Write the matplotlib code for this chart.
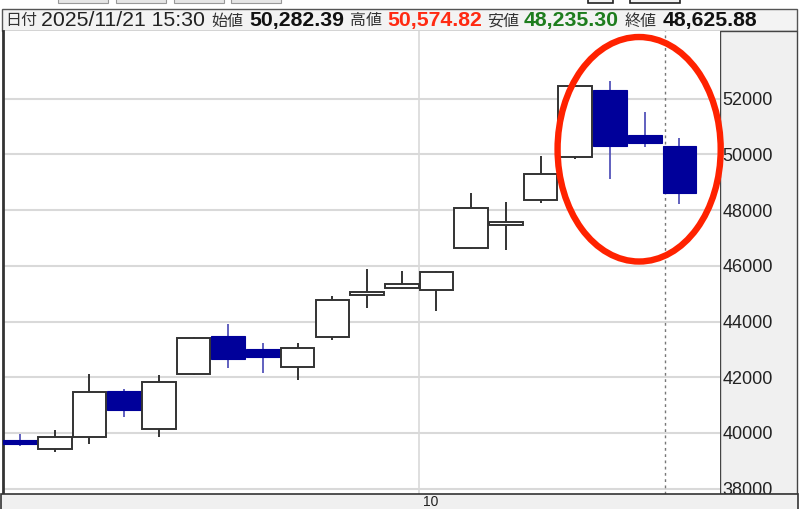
import matplotlib.pyplot as plt
from matplotlib.patches import Rectangle, Ellipse
import numpy as np

# weekly candles (20 weeks), last one = 2025/11/21
opens = [39750, 39420, 39870, 41520, 40140, 42100, 43470, 43010, 42370, 43450,
         44960, 45220, 45140, 46630, 47450, 48360, 49900, 52310, 50690, 50282.39]
highs = [39970, 40110, 42100, 41580, 42080, 43460, 43920, 43230, 43230, 44910,
         45870, 45820, 45800, 48610, 48290, 49940, 52470, 52640, 51530, 50574.82]
lows = [39540, 39300, 39610, 40570, 39870, 42080, 42340, 42150, 41890, 43350,
        44500, 45180, 44390, 46590, 46560, 48270, 49850, 49100, 50260, 48235.30]
closes = [39610, 39850, 41480, 40830, 41840, 43420, 42660, 42730, 43060, 44790,
          45050, 45360, 45780, 48090, 47580, 49310, 52460, 50300, 50400, 48625.88]

yticks = [38000, 40000, 42000, 44000, 46000, 48000, 50000, 52000]
xtick_pos = [11.5]
xtick_labels = ['10']

header = [('日付', 5, 'cjk', '#333333'),
          ('2025/11/21 15:30', 41, 'reg', '#222222'),
          ('始値', 211, 'cjk', '#333333'),
          ('50,282.39', 249, 'bold', '#111111'),
          ('高値', 350, 'cjk', '#333333'),
          ('50,574.82', 387, 'bold', '#ff2a12'),
          ('安値', 487, 'cjk', '#333333'),
          ('48,235.30', 524, 'bold', '#1e7d1e'),
          ('終値', 625, 'cjk', '#333333'),
          ('48,625.88', 663, 'bold', '#111111')]

W, H = 800, 509
fig = plt.figure(figsize=(W / 100, H / 100), dpi=100)
fig.patch.set_facecolor('white')

def px(x0, y0, w, h):
    # pixel box (top-left origin) -> figure fraction
    return [x0 / W, 1 - (y0 + h) / H, w / W, h / H]

def box(x0, y0, w, h, fc, ec='#444444', lw=1.0, z=0):
    b = px(x0, y0, w, h)
    r = Rectangle((b[0], b[1]), b[2], b[3], transform=fig.transFigure,
                  facecolor=fc, edgecolor=ec, linewidth=lw, zorder=z)
    fig.add_artist(r)

# top buttons (cut off)
for bx in [58, 116, 174, 231]:
    box(bx, -6, 50, 9, '#e6e6e6', '#999999', 0.8)
for bx, bw in [(588, 25), (630, 50)]:
    box(bx, -6, bw, 9, '#f4f4f4', '#222222', 1.2)

# header bar
box(2, 9, 795, 22, '#f3f3f3', '#555555', 1.0)
for txt, x, kind, col in header:
    if kind == 'cjk':
        fig.text(x / W, 1 - 21 / H, txt, family='Noto Sans CJK JP', fontsize=11.5,
                 color=col, va='center', ha='left')
    elif kind == 'bold':
        fig.text(x / W, 1 - 20.5 / H, txt, family='Liberation Sans', fontsize=15.3,
                 fontweight='bold', color=col, va='center', ha='left')
    else:
        fig.text(x / W, 1 - 20.5 / H, txt, family='Liberation Sans', fontsize=15.3,
                 color=col, va='center', ha='left')

# right price panel
box(720, 31, 77, 463, '#f0f0f0', '#444444', 1.0, z=0)

ax = fig.add_axes(px(3, 31, 717, 463))
ax.set_zorder(2)
ax.set_facecolor('white')

ax.set_xlim(-0.49, 20.17)
ax.set_ylim(37809, 54428)

for v in yticks:
    ax.axhline(v, color='#d9d9d9', lw=1.5, zorder=0)
ax.axvline(11.5, color='#d9d9d9', lw=1.2, zorder=0)
ax.axvline(18.58, color='#777777', lw=1.0, ls=(0, (2, 2.5)), zorder=0)

up_edge = '#333333'
down_fc = '#00009a'
down_wick = '#4646b4'
bw = 0.97
for i in range(len(opens)):
    o, h, l, c = opens[i], highs[i], lows[i], closes[i]
    if c >= o:
        ax.vlines(i, l, h, color=up_edge, lw=1.4, zorder=2)
        ax.add_patch(Rectangle((i - bw / 2, o), bw, c - o, facecolor='white',
                               edgecolor=up_edge, lw=1.4, zorder=3))
    else:
        ax.vlines(i, l, h, color=down_wick, lw=1.2, zorder=2)
        ax.add_patch(Rectangle((i - bw / 2, c), bw, o - c, facecolor=down_fc,
                               edgecolor=down_fc, lw=0.8, zorder=3))

# red circle around the last weeks
ell = Ellipse((17.84, 50183), 4.70, 8058, fill=False, edgecolor='#ff2200',
              lw=4.6, zorder=6, clip_on=False)
ax.add_patch(ell)

ax.yaxis.tick_right()
ax.set_yticks(yticks)
ax.set_yticklabels([str(v) for v in yticks], family='Liberation Sans',
                   fontsize=13, color='#222222')
ax.tick_params(axis='y', length=0, pad=2)
ax.set_xticks(xtick_pos)
ax.set_xticklabels([''])
ax.tick_params(axis='x', length=0)
for s in ['top', 'right', 'bottom']:
    ax.spines[s].set_visible(False)
ax.spines['left'].set_color('#333333')
ax.spines['left'].set_linewidth(2)

# bottom date panel (drawn above so the 38000 label is cut)
box(1, 494, 797, 20, '#f0f0f0', '#333333', 1.2, z=3)
fig.text(423 / W, 1 - 502 / H, xtick_labels[0], family='Liberation Sans',
         fontsize=10, color='#222222', va='center', ha='left', zorder=4)

fig.savefig('out.png', dpi=100)
